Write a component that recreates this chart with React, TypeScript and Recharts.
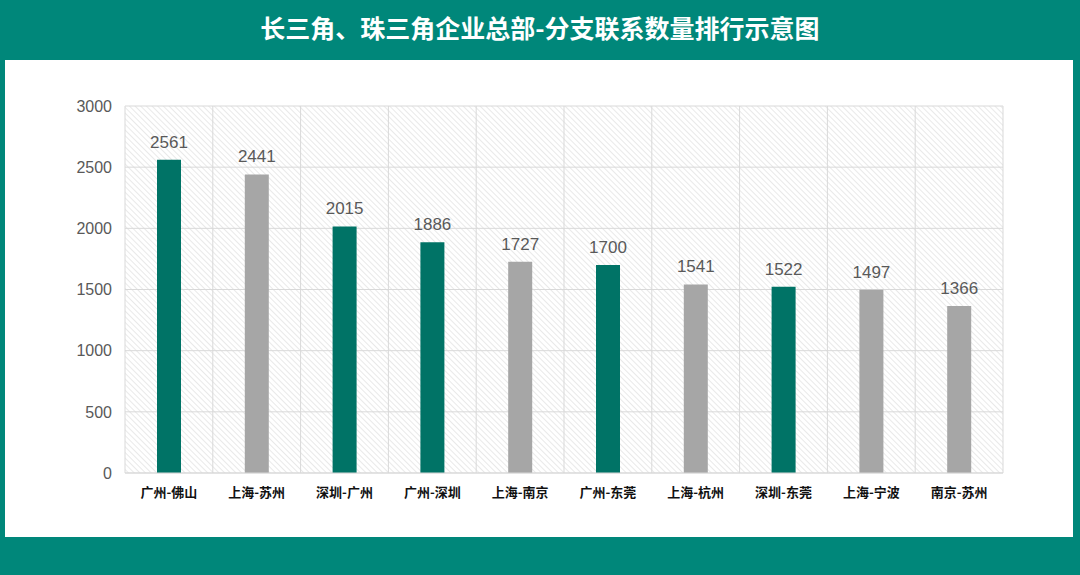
import { BarChart, Bar, XAxis, YAxis, CartesianGrid, LabelList, Cell } from "recharts";

const routes = ["广州-佛山", "上海-苏州", "深圳-广州", "广州-深圳", "上海-南京", "广州-东莞", "上海-杭州", "深圳-东莞", "上海-宁波", "南京-苏州"];
const counts = [2561, 2441, 2015, 1886, 1727, 1700, 1541, 1522, 1497, 1366];
// 珠三角 = teal, 长三角 = gray
const regions = ["prd", "yrd", "prd", "prd", "yrd", "prd", "yrd", "prd", "yrd", "yrd"];
const yTicks = [0, 500, 1000, 1500, 2000, 2500, 3000];

const TEAL = "#00877a";
const BAR_TEAL = "#007366";
const BAR_GRAY = "#a6a6a6";

const data = routes.map((name, i) => ({ name, value: counts[i], region: regions[i] }));

export default function App() {
  return (
    <div style={{ position: "absolute", left: 0, top: 0, width: 1080, height: 575, background: TEAL, overflow: "hidden" }}>
      <div
        style={{
          position: "absolute",
          top: 9,
          left: 0,
          width: 1080,
          textAlign: "center",
          color: "#fff",
          fontFamily: "'Noto Sans CJK SC', sans-serif",
          fontWeight: 700,
          fontSize: 25,
          lineHeight: "36px",
        }}
      >
        长三角、珠三角企业总部-分支联系数量排行示意图
      </div>
      <div style={{ position: "absolute", left: 5, top: 60, width: 1068, height: 477, background: "#fff" }} />
      <div style={{ position: "absolute", left: 0, top: 0 }}>
        <BarChart
          width={1080}
          height={575}
          data={data}
          margin={{ top: 106, right: 77, bottom: 72, left: 65 }}
          barSize={24}
        >
          <defs>
            <pattern id="hatch" width="4" height="4" patternUnits="userSpaceOnUse" patternTransform="rotate(-45)">
              <rect width="4" height="4" fill="#ffffff" />
              <line x1="0" y1="0" x2="0" y2="4" stroke="#dedede" strokeWidth="1.3" />
            </pattern>
          </defs>
          <CartesianGrid
            stroke="#d9d9d9"
            fill="url(#hatch)"
            fillOpacity={1}
            verticalCoordinatesGenerator={({ offset }: any) =>
              routes.map((_, i) => offset.left + (i * offset.width) / routes.length).concat(offset.left + offset.width)
            }
          />
          <XAxis
            dataKey="name"
            interval={0}
            axisLine={{ stroke: "#d9d9d9" }}
            tickLine={false}
            tickSize={0}
            tickMargin={15}
            height={30}
            tick={{ fill: "#111", fontSize: 13, fontWeight: 700, fontFamily: "'Noto Sans CJK SC', sans-serif" }}
          />
          <YAxis
            domain={[0, 3000]}
            ticks={yTicks}
            width={60}
            axisLine={false}
            tickLine={false}
            tickSize={0}
            tickMargin={13}
            tick={{ fill: "#595959", fontSize: 16, fontFamily: "'Liberation Sans', Arial, sans-serif" }}
          />
          <Bar dataKey="value" isAnimationActive={false}>
            {data.map((d, i) => (
              <Cell key={i} fill={d.region === "prd" ? BAR_TEAL : BAR_GRAY} />
            ))}
            <LabelList
              dataKey="value"
              position="top"
              offset={12}
              fill="#595959"
              fontSize={17}
              fontFamily="'Liberation Sans', Arial, sans-serif"
            />
          </Bar>
        </BarChart>
      </div>
    </div>
  );
}
